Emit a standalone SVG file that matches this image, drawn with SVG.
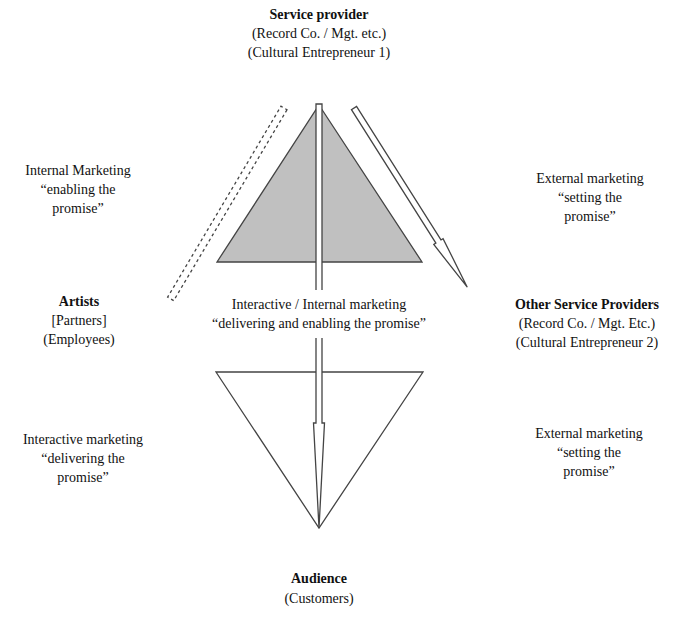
<svg xmlns="http://www.w3.org/2000/svg" width="676" height="622" viewBox="0 0 676 622">
<style>
text{font-family:"Liberation Serif","Times New Roman",serif;font-size:14px;fill:#111;text-anchor:middle}
.b{font-weight:bold}
.ln{stroke:#444;stroke-width:1.3;stroke-linejoin:miter}
</style>
<rect width="676" height="622" fill="#fff"/>
<g id="shapes">
<polygon id="top-triangle" class="ln" points="319,105 422,262 217,262" fill="#c0c0c0"/>
<polygon id="bottom-triangle" class="ln" points="216,372 423,372 319,528" fill="none"/>
</g>
<g id="connectors">
<path id="central-arrow" class="ln" fill="#fff" d="M316,104 L322,104 L322,423 L324.5,423 L319,528 L313.5,423 L316,423 Z"/>
<rect x="311" y="290" width="16" height="48" fill="#fff"/>
<g id="external-arrow" transform="translate(354,108) rotate(57.7)">
<polygon class="ln" fill="#fff" points="0,-3 158,-3 158,-5.5 212,0 158,5.5 158,3 0,3"/>
</g>
<g id="internal-dashed" transform="translate(284,108) rotate(120.7)">
<rect x="0" y="-3.5" width="222" height="7" fill="none" stroke="#444" stroke-width="1.3" stroke-dasharray="3 3"/>
</g>
</g>
<g id="service-provider">
<text class="b" x="319" y="19">Service provider</text>
<text x="319" y="38">(Record Co. / Mgt. etc.)</text>
<text x="319" y="57">(Cultural Entrepreneur 1)</text>
</g>
<g id="internal-marketing">
<text x="78" y="175">Internal Marketing</text>
<text x="78" y="194">“enabling the</text>
<text x="78" y="213">promise”</text>
</g>
<g id="external-marketing-top">
<text x="590" y="183">External marketing</text>
<text x="590" y="202">“setting the</text>
<text x="590" y="221">promise”</text>
</g>
<g id="artists">
<text class="b" x="79" y="306">Artists</text>
<text x="79" y="325">[Partners]</text>
<text x="79" y="344">(Employees)</text>
</g>
<g id="interactive-internal">
<text x="319" y="309">Interactive / Internal marketing</text>
<text x="319" y="328">“delivering and enabling the promise”</text>
</g>
<g id="other-service-providers">
<text class="b" x="587" y="309">Other Service Providers</text>
<text x="587" y="328">(Record Co. / Mgt. Etc.)</text>
<text x="587" y="347">(Cultural Entrepreneur 2)</text>
</g>
<g id="interactive-marketing">
<text x="83" y="444">Interactive marketing</text>
<text x="83" y="463">“delivering the</text>
<text x="83" y="482">promise”</text>
</g>
<g id="external-marketing-bottom">
<text x="589" y="438">External marketing</text>
<text x="589" y="457">“setting the</text>
<text x="589" y="476">promise”</text>
</g>
<g id="audience">
<text class="b" x="319" y="583">Audience</text>
<text x="319" y="603">(Customers)</text>
</g>
</svg>
